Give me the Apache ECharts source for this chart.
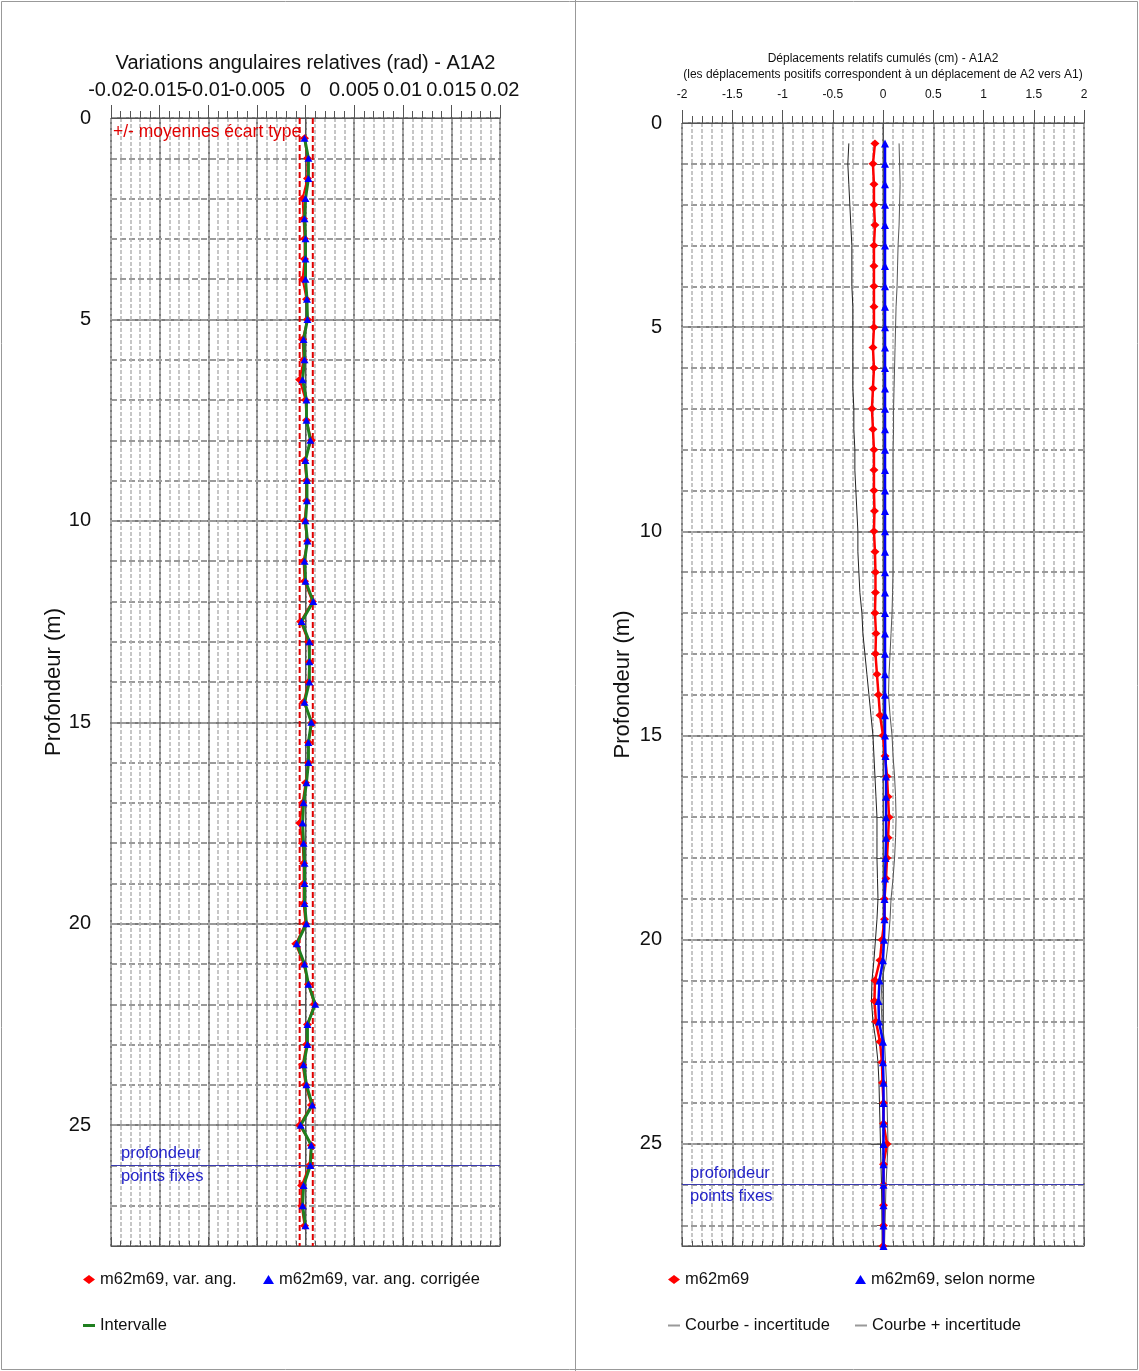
<!DOCTYPE html>
<html><head><meta charset="utf-8">
<script src="https://cdn.jsdelivr.net/npm/echarts@6/dist/echarts.min.js"></script>
<style>html,body{margin:0;padding:0;background:#fff}#c{width:1139px;height:1371px}</style>
</head><body><div id="c"></div><script>
// ---------- DATA ----------
const depths = [0.5,1,1.5,2,2.5,3,3.5,4,4.5,5,5.5,6,6.5,7,7.5,8,8.5,9,9.5,10,10.5,11,11.5,12,12.5,13,13.5,14,14.5,15,15.5,16,16.5,17,17.5,18,18.5,19,19.5,20,20.5,21,21.5,22,22.5,23,23.5,24,24.5,25,25.5,26,26.5,27,27.5];

// Left panel: relative angular variations (rad)
const varAng = [-0.0001,0.0002,0.0002,-0.0003,-0.0002,-0.0001,-0.0001,-0.0003,0.0001,0.0002,-0.0003,-0.0002,-0.0006,0.0000,0.0001,0.0006,-0.0001,0.0001,0.0001,-0.0001,0.0002,-0.0002,-0.0001,0.0007,-0.0005,0.0003,0.0004,0.0003,-0.0002,0.0007,0.0003,0.0003,0.0000,-0.0003,-0.0006,-0.0003,-0.0002,-0.0002,-0.0002,0.0000,-0.0010,-0.0002,0.0003,0.0009,0.0002,0.0001,-0.0003,0.0000,0.0006,-0.0006,0.0006,0.0004,-0.0004,-0.0004,-0.0001];
const varAngCorr = [-0.0001,0.0003,0.0003,0.0000,-0.0001,0.0000,0.0000,0.0000,0.00015,0.0002,-0.0002,-0.0001,-0.0003,0.0001,0.0001,0.0005,0.0000,0.00015,0.00015,0.0000,0.0002,-0.0001,0.0000,0.0008,-0.0004,0.0004,0.0004,0.0004,-0.0001,0.0006,0.0003,0.0003,0.0001,-0.0002,-0.0003,-0.0002,-0.0001,-0.0001,-0.0001,0.0001,-0.0009,-0.0001,0.0003,0.0010,0.0002,0.0002,-0.0002,0.0001,0.0007,-0.0005,0.0006,0.0005,-0.0002,-0.0003,0.0000];
const bandLimits = [-0.0006, 0.00075];   // +/- moyennes écart type
const fixedDepth = 26;                    // profondeur points fixes

// Right panel: cumulative relative displacements (cm)
const dispRaw = [-0.08,-0.10,-0.09,-0.09,-0.08,-0.09,-0.09,-0.09,-0.09,-0.09,-0.10,-0.09,-0.10,-0.11,-0.10,-0.09,-0.09,-0.09,-0.085,-0.09,-0.08,-0.075,-0.075,-0.08,-0.07,-0.075,-0.06,-0.045,-0.03,0.00,0.02,0.04,0.05,0.06,0.05,0.04,0.03,0.015,0.015,-0.01,-0.03,-0.08,-0.085,-0.07,-0.03,-0.01,-0.005,0.005,0.005,0.04,0.005,0.005,0.005,0.005,0.0];
const dispNorm = [0.02,0.02,0.02,0.02,0.02,0.02,0.02,0.02,0.02,0.02,0.02,0.02,0.02,0.02,0.02,0.02,0.02,0.02,0.02,0.02,0.02,0.02,0.02,0.02,0.02,0.02,0.02,0.02,0.02,0.02,0.025,0.03,0.03,0.03,0.03,0.025,0.02,0.015,0.015,0.01,0.0,-0.035,-0.045,-0.04,0.0,0.0,0.005,0.005,0.005,0.005,0.005,0.005,0.005,0.005,0.005];
const uncMinus = [-0.34,-0.35,-0.34,-0.33,-0.32,-0.31,-0.31,-0.31,-0.30,-0.30,-0.30,-0.30,-0.30,-0.29,-0.29,-0.28,-0.28,-0.27,-0.26,-0.25,-0.25,-0.24,-0.23,-0.21,-0.20,-0.18,-0.16,-0.14,-0.12,-0.10,-0.09,-0.08,-0.07,-0.06,-0.06,-0.06,-0.055,-0.05,-0.06,-0.075,-0.09,-0.11,-0.115,-0.10,-0.07,-0.05,-0.04,-0.035,-0.03,-0.025,-0.02,-0.015,-0.012,-0.01,-0.008];
const uncPlus = [0.16,0.165,0.17,0.165,0.16,0.15,0.145,0.14,0.13,0.125,0.12,0.115,0.11,0.105,0.105,0.10,0.10,0.10,0.10,0.10,0.10,0.10,0.095,0.09,0.08,0.07,0.06,0.055,0.07,0.09,0.10,0.115,0.125,0.13,0.125,0.115,0.10,0.08,0.07,0.055,0.03,-0.01,-0.02,-0.01,0.015,0.025,0.035,0.04,0.045,0.05,0.04,0.03,0.025,0.02,0.015];

const leftTicksX = {min:-0.02, max:0.02, major:0.005, minor:0.001};
const rightTicksX = {min:-2, max:2, major:0.5, minor:0.1};
const leftDepthMax = 28, rightDepthMax = 27.5;

// ---------- CHART ----------
const FONT = 'Liberation Sans';
const pair = (xs) => depths.map((d,i)=>[xs[i], d]);
const fmtNum = (v) => String(parseFloat((+v).toFixed(6)));

function xAxesFor(g, t, name, nameGap, labelSize, labelMargin, nameSize, lh) {
  // labels split over two axes (alternating) so that crowded labels are all drawn
  const lbl = (parity) => ({show:true, fontFamily:FONT, fontSize:labelSize, color:'#111', margin:labelMargin,
     showMinLabel:true, showMaxLabel:true, hideOverlap:false,
     formatter:(v)=> (Math.abs(Math.round((v - t.min)/t.major)) % 2 === parity) ? fmtNum(v) : ''});
  return [
    {gridIndex:g, type:'value', position:'top', min:t.min, max:t.max, interval:t.major,
     name:name, nameLocation:'middle', nameGap:nameGap,
     nameTextStyle:{fontFamily:FONT, fontSize:nameSize, color:'#111', lineHeight:lh},
     axisLine:{show:true, lineStyle:{color:'#555', width:1}},
     axisTick:{show:true, inside:false, length:13, lineStyle:{color:'#555'}},
     axisLabel:lbl(0),
     splitLine:{show:true, lineStyle:{color:'#7c7c7c', width:2}}},
    {gridIndex:g, type:'value', position:'top', min:t.min, max:t.max, interval:t.major,
     axisLine:{show:false}, axisTick:{show:false}, splitLine:{show:false},
     axisLabel:lbl(1)},
    {gridIndex:g, type:'value', position:'top', min:t.min, max:t.max, interval:t.minor,
     axisLine:{show:false}, axisLabel:{show:false},
     axisTick:{show:true, length:7, lineStyle:{color:'#555'}},
     splitLine:{show:true, lineStyle:{color:'#b4b4b4', width:1.5, type:[4,2]}}},
    {gridIndex:g, type:'value', position:'bottom', min:t.min, max:t.max, interval:t.minor,
     axisLine:{show:true, lineStyle:{color:'#555'}}, axisLabel:{show:false},
     axisTick:{show:true, inside:true, length:5, lineStyle:{color:'#555'}},
     splitLine:{show:false}},
    {gridIndex:g, type:'value', position:'bottom', min:t.min, max:t.max, interval:t.major,
     axisLine:{show:false}, axisLabel:{show:false},
     axisTick:{show:true, inside:true, length:9, lineStyle:{color:'#555'}},
     splitLine:{show:false}}
  ];
}
function yAxesFor(g, max, nameGap) {
  return [
    {gridIndex:g, type:'value', inverse:true, position:'left', min:0, max:max, interval:5,
     name:'Profondeur (m)', nameLocation:'middle', nameGap:nameGap,
     nameTextStyle:{fontFamily:FONT, fontSize:22, color:'#111'},
     axisLine:{show:true, lineStyle:{color:'#555'}},
     axisTick:{show:true, length:12, lineStyle:{color:'#555'}},
     axisLabel:{show:true, fontFamily:FONT, fontSize:20, color:'#111', margin:20, showMaxLabel:false},
     splitLine:{show:true, lineStyle:{color:'#7c7c7c', width:2}}},
    {gridIndex:g, type:'value', inverse:true, position:'left', min:0, max:max, interval:1,
     axisLine:{show:false}, axisLabel:{show:false},
     axisTick:{show:true, length:6, lineStyle:{color:'#555'}},
     splitLine:{show:true, lineStyle:{color:'#9a9a9a', width:2, type:[6,3]}}},
    {gridIndex:g, type:'value', inverse:true, position:'right', min:0, max:max,
     axisLine:{show:true, lineStyle:{color:'#555'}}, axisLabel:{show:false},
     axisTick:{show:false}, splitLine:{show:false}}
  ];
}

const legendFont = {fontFamily:FONT, fontSize:16.5, color:'#111'};
function leg(name, left, top, icon, w, h) {
  return {show:true, left:left, top:top, data:[name], icon:icon, itemWidth:w, itemHeight:h,
    itemGap:6, textStyle:legendFont, selectedMode:false};
}
const depthLabel = (dist) => ([
  {yAxis:fixedDepth, lineStyle:{color:'#3a3ab0', type:'solid', width:1.2},
   label:{show:true, position:'insideStartTop', formatter:'profondeur', color:'#2424c8', fontFamily:FONT, fontSize:16.5, distance:[dist,3]}},
  {yAxis:fixedDepth, lineStyle:{color:'#3a3ab0', type:'solid', width:1.2},
   label:{show:true, position:'insideStartBottom', formatter:'points fixes', color:'#2424c8', fontFamily:FONT, fontSize:16.5, distance:[dist,3]}}
]);

const XL = 0, XR = 5; // index of the main x axis of each panel
const option = {
  animation:false,
  backgroundColor:'#fff',
  grid:[
    {left:111, top:118, width:389, height:1128, show:false},
    {left:682, top:123, width:402, height:1123, show:false}
  ],
  xAxis: xAxesFor(0, leftTicksX, 'Variations angulaires relatives (rad) - A1A2', 43, 20, 18, 20, 24)
    .concat(xAxesFor(1, rightTicksX, 'Déplacements relatifs cumulés (cm) - A1A2\n(les déplacements positifs correspondent à un déplacement de A2 vers A1)', 40, 12, 22, 12, 16)),
  yAxis: yAxesFor(0, leftDepthMax, 46).concat(yAxesFor(1, rightDepthMax, 48)),
  legend:[
    leg('m62m69, var. ang.', 78, 1266, 'diamond', 12, 9),
    leg('m62m69, var. ang. corrigée', 258, 1266, 'triangle', 11, 9),
    leg('Intervalle', 78, 1312, 'rect', 12, 3),
    leg('m62m69', 663, 1266, 'diamond', 12, 9),
    leg('m62m69, selon norme', 850, 1266, 'triangle', 11, 9),
    {show:true, left:663, top:1312, selectedMode:false, itemWidth:12, itemHeight:2, itemGap:6, textStyle:legendFont,
     data:[{name:'Courbe - incertitude', icon:'rect', itemStyle:{color:'#999'}}]},
    {show:true, left:850, top:1312, selectedMode:false, itemWidth:12, itemHeight:2, itemGap:6, textStyle:legendFont,
     data:[{name:'Courbe + incertitude', icon:'rect', itemStyle:{color:'#999'}}]}
  ],
  graphic:[
    {type:'rect', shape:{x:1.5, y:1.5, width:1136, height:1368}, style:{fill:'none', stroke:'#999', lineWidth:1}, silent:true},
    {type:'line', shape:{x1:575.5, y1:0, x2:575.5, y2:1371}, style:{stroke:'#999', lineWidth:1}, silent:true},
    {type:'text', left:113, top:123, style:{text:'+/- moyennes écart type', fill:'#e00000', font:'17.5px "Liberation Sans"'}, z:20}
  ],
  series:[
    // left panel: band limits (vertical dashed red lines)
    ...bandLimits.map(v => ({type:'line', xAxisIndex:XL, yAxisIndex:0, data:[[v,0],[v,leftDepthMax]],
      symbol:'none', silent:true, lineStyle:{color:'#e00000', type:[6,3], width:2}, z:2})),
    {name:'m62m69, var. ang.', type:'line', xAxisIndex:XL, yAxisIndex:0, data:pair(varAng),
     color:'#ff0000', symbol:'diamond', symbolSize:[9,8], lineStyle:{color:'#ff0000', width:2},
     itemStyle:{color:'#ff0000'}, z:3},
    {name:'Intervalle', type:'line', xAxisIndex:XL, yAxisIndex:0, data:pair(varAngCorr),
     color:'#1f7f1f', symbol:'none', lineStyle:{color:'#1f7f1f', width:3}, z:4,
     markLine:{silent:true, symbol:'none', data: depthLabel(10)}},
    {name:'m62m69, var. ang. corrigée', type:'line', xAxisIndex:XL, yAxisIndex:0, data:pair(varAngCorr),
     color:'#0000ff', symbol:'triangle', symbolSize:[8,7], lineStyle:{width:0, opacity:0},
     itemStyle:{color:'#0000ff'}, z:5},
    // right panel
    {name:'Courbe - incertitude', type:'line', xAxisIndex:XR, yAxisIndex:3, data:pair(uncMinus),
     color:'#222', symbol:'none', lineStyle:{color:'#222', width:1}, z:2},
    {name:'Courbe + incertitude', type:'line', xAxisIndex:XR, yAxisIndex:3, data:pair(uncPlus),
     color:'#555', symbol:'none', lineStyle:{color:'#555', width:1}, z:2},
    {name:'m62m69', type:'line', xAxisIndex:XR, yAxisIndex:3, data:pair(dispRaw),
     color:'#ff0000', symbol:'diamond', symbolSize:[9,8], lineStyle:{color:'#ff0000', width:2.5},
     itemStyle:{color:'#ff0000'}, z:3,
     markLine:{silent:true, symbol:'none', data: depthLabel(8)}},
    {name:'m62m69, selon norme', type:'line', xAxisIndex:XR, yAxisIndex:3, data:pair(dispNorm),
     color:'#0000ff', symbol:'triangle', symbolSize:[8,8], lineStyle:{color:'#0000ff', width:2.5},
     itemStyle:{color:'#0000ff'}, z:4}
  ]
};
const chart = echarts.init(document.getElementById('c'), null, {renderer:'canvas'});
chart.setOption(option);
</script></body></html>
